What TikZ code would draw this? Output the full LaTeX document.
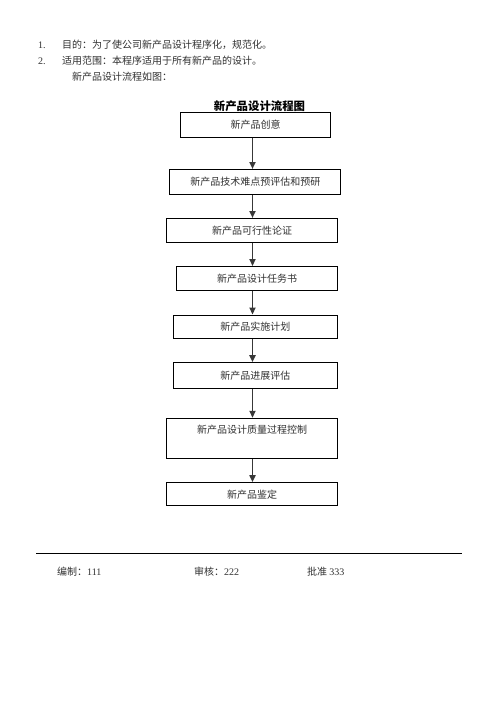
\documentclass[tikz,border=0pt]{standalone}
\usepackage{fontspec}
\setmainfont{Liberation Serif}
\newfontfamily\cjk{Noto Sans CJK SC}
\usetikzlibrary{arrows.meta}
\definecolor{txt}{HTML}{303030}
\definecolor{arrc}{HTML}{383838}
\tikzset{
  box/.style={draw=black, line width=1pt, rectangle, inner sep=0pt, font=\cjk\fontsize{10}{12}\selectfont, text=txt},
  plain/.style={inner sep=0pt, font=\fontsize{10}{12}\selectfont, text=txt},
  arr/.style={draw=arrc, line width=1.8pt, -{Triangle[length=7pt,width=6pt]}},
}
\begin{document}
\begin{tikzpicture}[x=1pt,y=-1pt]
\useasboundingbox (0,0) rectangle (500,706);
% header text
\node[plain, anchor=west] (n1) at (38,45) {1.};
\node[plain, anchor=west] (l1) at (62,45) {\cjk 目的：为了使公司新产品设计程序化，规范化。};
\node[plain, anchor=west] (n2) at (38,61) {2.};
\node[plain, anchor=west] (l2) at (62,61) {\cjk 适用范围：本程序适用于所有新产品的设计。};
\node[plain, anchor=west] (l3) at (72,77) {\cjk 新产品设计流程如图：};
\node[inner sep=0pt, font=\cjk\bfseries\fontsize{11.4}{13}\selectfont] (title) at (259.5,106) {新产品设计流程图};
% boxes
\node[box, minimum width=150pt, minimum height=24pt] (b1) at (255.7,125) {新产品创意};
\node[box, minimum width=170.7pt, minimum height=25pt] (b2) at (255.3,182) {新产品技术难点预评估和预研};
\node[box, minimum width=170.6pt, minimum height=24pt] (b3) at (252,230.5) {新产品可行性论证};
\node[box, minimum width=160.6pt, minimum height=23.5pt] (b4) at (257,278.3) {新产品设计任务书};
\node[box, minimum width=164pt, minimum height=23.5pt] (b5) at (255.3,326.8) {新产品实施计划};
\node[box, minimum width=164pt, minimum height=25.6pt] (b6) at (255.3,375.5) {新产品进展评估};
\node[box, minimum width=170.6pt, minimum height=40pt] (b7) at (252,438.3) {};
\node[plain, font=\cjk\fontsize{10}{12}\selectfont] (t7) at (252,430) {新产品设计质量过程控制};
\node[box, minimum width=170.6pt, minimum height=23.3pt] (b8) at (252,494.3) {新产品鉴定};
% arrows
\coordinate (ax) at (252.5,0);
\draw[arr] (b1.south -| ax) -- (b2.north -| ax);
\draw[arr] (b2.south -| ax) -- (b3.north -| ax);
\draw[arr] (b3.south -| ax) -- (b4.north -| ax);
\draw[arr] (b4.south -| ax) -- (b5.north -| ax);
\draw[arr] (b5.south -| ax) -- (b6.north -| ax);
\draw[arr] (b6.south -| ax) -- (b7.north -| ax);
\draw[arr] (b7.south -| ax) -- (b8.north -| ax);
% footer
\coordinate (fl) at (36,553);
\coordinate (fr) at (462,553);
\draw[line width=1pt] (fl) -- (fr);
\node[plain, anchor=west] (f1) at (57,572) {{\cjk 编制：}111};
\node[plain, anchor=west] (f2) at (194,572) {{\cjk 审核：}222};
\node[plain, anchor=west] (f3) at (307,572) {{\cjk 批准 }333};
\end{tikzpicture}
\end{document}
